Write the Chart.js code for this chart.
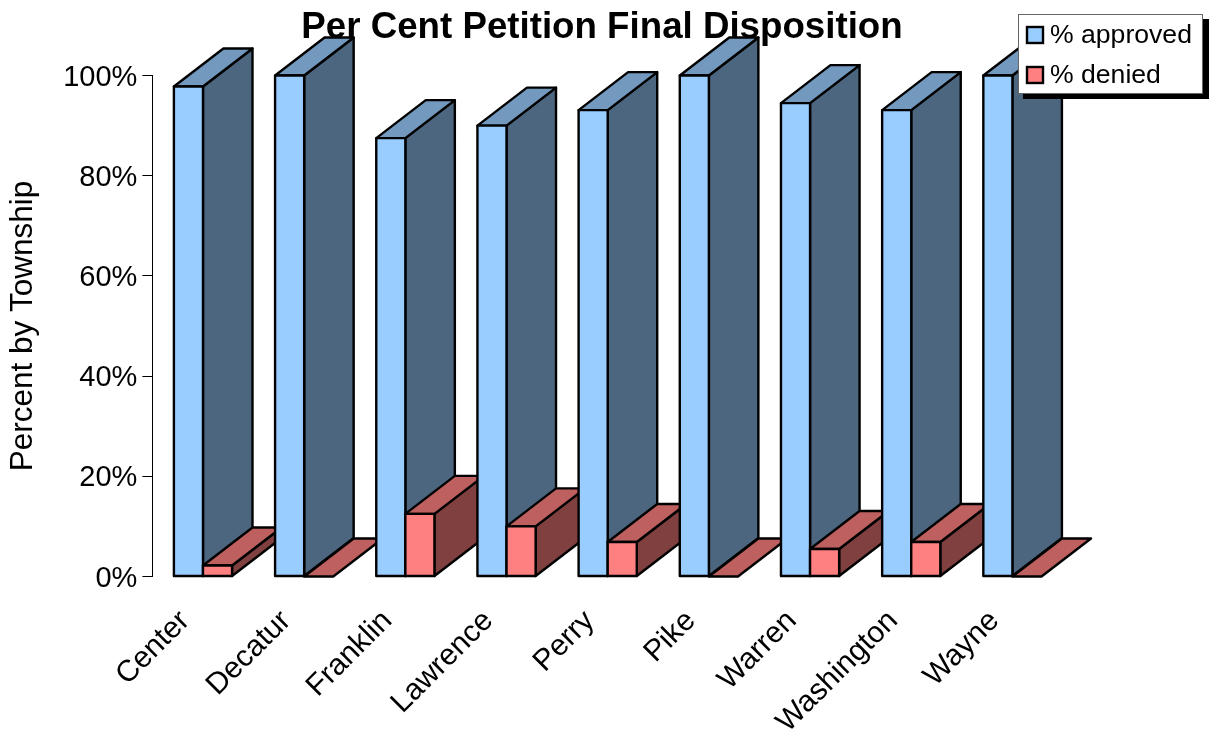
<!DOCTYPE html>
<html>
<head>
<meta charset="utf-8">
<title>Per Cent Petition Final Disposition</title>
<script src="https://cdn.jsdelivr.net/npm/chart.js@4/dist/chart.umd.min.js"></script>
<style>
  html, body { margin: 0; padding: 0; background: #fff; }
  #wrap { width: 1212px; height: 736px; }
</style>
</head>
<body>
<div id="wrap"><canvas id="petition-chart" width="1212" height="736"></canvas></div>
<script>
var townships = ['Center', 'Decatur', 'Franklin', 'Lawrence', 'Perry', 'Pike', 'Warren', 'Washington', 'Wayne'];
var approved = [97.8, 100, 87.5, 90, 93.1, 100, 94.5, 93.1, 100];
var denied = [2.2, 0, 12.5, 10, 6.9, 0, 5.5, 6.9, 0];
var yTicks = [0, 20, 40, 60, 80, 100];

var DEPTH_X = 49.5;
var DEPTH_Y = 38;
var FONT = '"Liberation Sans", Arial, sans-serif';

function fillPath(ctx, pts, color) {
    ctx.beginPath();
    ctx.moveTo(pts[0][0], pts[0][1]);
    for (var i = 1; i < pts.length; i++) {
        ctx.lineTo(pts[i][0], pts[i][1]);
    }
    ctx.closePath();
    ctx.fillStyle = color;
    ctx.fill();
    ctx.stroke();
}

// bars get their depth here, category by category so nearer ones overlap
var extrudeBars = {
    id: 'extrudeBars',
    afterLayout: function(chart) {
        // title is centred on the page, not on the space left of the plot's right margin
        chart.titleBlock.right = 1204;
    },
    afterDatasetsDraw: function(chart) {
        var ctx = chart.ctx;
        ctx.save();
        ctx.strokeStyle = '#000';
        ctx.lineWidth = 2.4;
        ctx.lineJoin = 'round';
        townships.forEach(function(name, idx) {
            chart.data.datasets.forEach(function(ds, dsIdx) {
                var bar = chart.getDatasetMeta(dsIdx).data[idx];
                var l = bar.x - bar.width / 2;
                var r = bar.x + bar.width / 2;
                var t = bar.y;
                var b = bar.base;
                // a zero value only leaves the flat top on the floor
                if (ds.data[idx] > 0) {
                    fillPath(ctx, [[r, t], [r + DEPTH_X, t - DEPTH_Y], [r + DEPTH_X, b - DEPTH_Y], [r, b]], ds.sideColor);
                }
                fillPath(ctx, [[l, t], [l + DEPTH_X, t - DEPTH_Y], [r + DEPTH_X, t - DEPTH_Y], [r, t]], ds.topColor);
                if (ds.data[idx] > 0) {
                    fillPath(ctx, [[l, t], [r, t], [r, b], [l, b]], ds.backgroundColor);
                }
            });
        });
        ctx.restore();
    }
};

// legend box with a hard drop shadow, sits on top of the bars
var shadowLegend = {
    id: 'shadowLegend',
    afterDraw: function(chart) {
        var ctx = chart.ctx;
        ctx.save();
        ctx.fillStyle = '#000';
        ctx.fillRect(1023, 19, 186, 80);
        ctx.fillStyle = '#fff';
        ctx.fillRect(1018, 14, 184, 79);
        ctx.strokeStyle = '#666';
        ctx.lineWidth = 1;
        ctx.strokeRect(1018.5, 14.5, 184, 79);
        ctx.font = '26.6px ' + FONT;
        ctx.textBaseline = 'alphabetic';
        chart.data.datasets.forEach(function(ds, i) {
            var y = 27 + i * 40;
            ctx.fillStyle = ds.backgroundColor;
            ctx.fillRect(1027, y, 16, 16);
            ctx.strokeStyle = '#000';
            ctx.lineWidth = 2.4;
            ctx.strokeRect(1027, y, 16, 16);
            ctx.fillStyle = '#000';
            ctx.fillText(ds.label, 1050, y + 16);
        });
        ctx.restore();
    }
};

new Chart(document.getElementById('petition-chart'), {
    type: 'bar',
    data: {
        labels: townships,
        datasets: [{
            label: '% approved',
            data: approved,
            backgroundColor: '#99CCFF',
            sideColor: '#4D6680',
            topColor: '#7399BF'
        }, {
            label: '% denied',
            data: denied,
            backgroundColor: '#FF8080',
            sideColor: '#804040',
            topColor: '#BF6060'
        }]
    },
    options: {
        responsive: false,
        animation: false,
        layout: {
            autoPadding: false,
            padding: { left: 0, right: 149, top: 0, bottom: 0 }
        },
        plugins: {
            legend: { display: false },
            tooltip: { enabled: false },
            title: {
                display: true,
                text: 'Per Cent Petition Final Disposition',
                color: '#000',
                font: { family: FONT, size: 36.7, weight: 'bold' },
                padding: { top: 5.5, bottom: 26 }
            }
        },
        datasets: {
            bar: { categoryPercentage: 0.575, barPercentage: 1 }
        },
        scales: {
            x: {
                afterFit: function(scale) { scale.height = 159.5; },
                grid: { display: false },
                border: { display: false },
                ticks: {
                    color: '#000',
                    font: { family: FONT, size: 30 },
                    minRotation: 45,
                    maxRotation: 45,
                    autoSkip: false,
                    padding: 19,
                    labelOffset: -18
                }
            },
            y: {
                min: 0,
                max: 100,
                afterFit: function(scale) { scale.width = 152.4; },
                afterBuildTicks: function(scale) {
                    scale.ticks = yTicks.map(function(v) { return { value: v }; });
                },
                grid: { drawOnChartArea: false, color: '#000', tickLength: 10, lineWidth: 1 },
                border: { color: '#000', width: 1 },
                title: {
                    display: true,
                    text: 'Percent by Township',
                    color: '#000',
                    font: { family: FONT, size: 31.5 },
                    padding: { top: 4, bottom: 0 }
                },
                ticks: {
                    color: '#000',
                    font: { family: FONT, size: 29 },
                    padding: 5,
                    labelOffset: 2,
                    callback: function(v) { return v + '%'; }
                }
            }
        }
    },
    plugins: [extrudeBars, shadowLegend]
});
</script>
</body>
</html>
